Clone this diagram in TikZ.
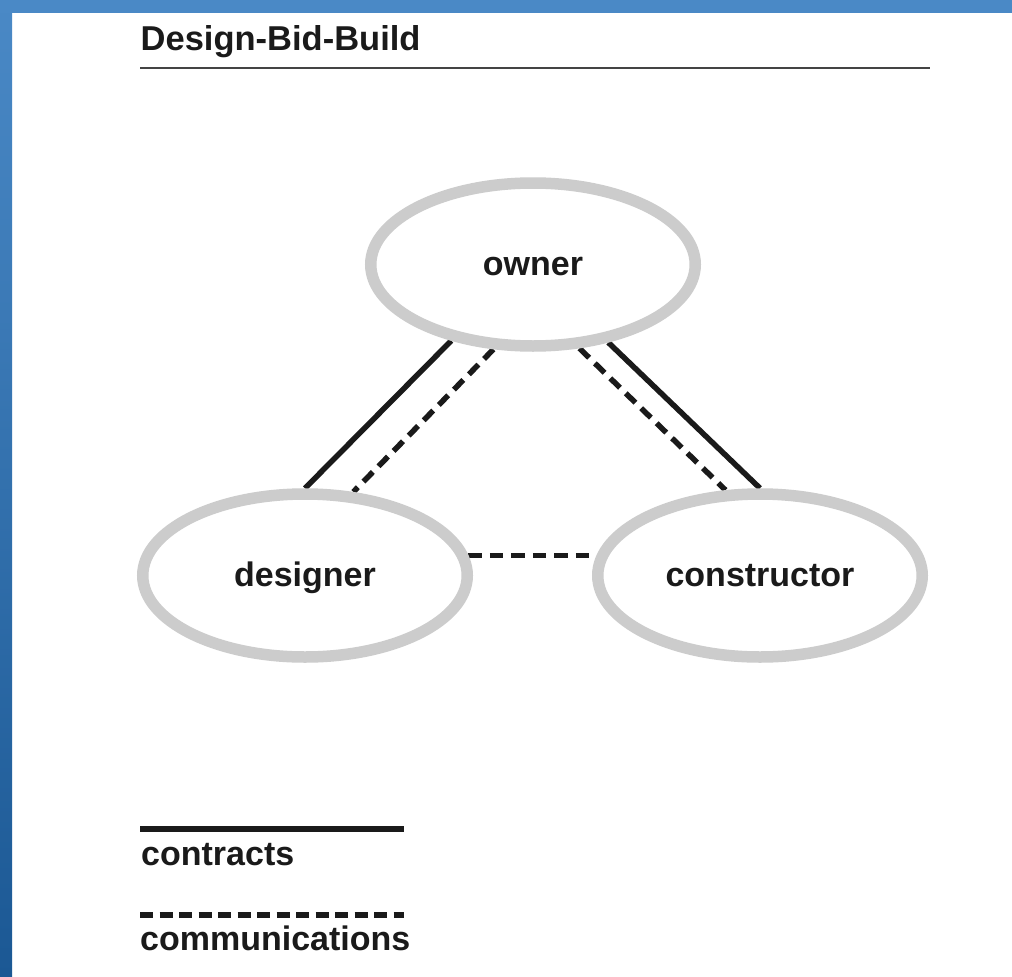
\documentclass[tikz,border=0pt]{standalone}
\usepackage{fontspec}
\setmainfont{Liberation Sans}
\usetikzlibrary{shapes.geometric,backgrounds}
\definecolor{bandblue}{HTML}{4A89C6}
\definecolor{banddark}{HTML}{1B5894}
\definecolor{ringgray}{HTML}{CCCCCC}
\definecolor{inkblack}{HTML}{1A1A1A}
\definecolor{rulegray}{HTML}{444444}
\tikzset{
  party/.style={ellipse, draw=ringgray, line width=11.5pt, fill=white,
    minimum width=324.5pt, minimum height=163pt, inner sep=0pt, outer sep=5.75pt,
    font=\bfseries\fontsize{34}{40}\selectfont, text=inkblack,
    text height=22pt, text depth=0pt},
  contract/.style={draw=inkblack, line width=5.5pt},
  comm/.style={draw=inkblack, line width=5.5pt, dash pattern=on 13.5pt off 8pt},
  commkey/.style={draw=inkblack, line width=6pt, dash pattern=on 13pt off 6.5pt},
  keytext/.style={anchor=base west, inner sep=0pt, text=inkblack,
    font=\bfseries\fontsize{34}{40}\selectfont},
}
\begin{document}
\begin{tikzpicture}[x=1pt, y=-1pt]
  \useasboundingbox (0,0) rectangle (1012,977);
  % nodes
  \node[party] (owner) at (533,264.5) {owner};
  \node[party] (designer) at (305,575.5) {designer};
  \node[party] (constructor) at (760,575.5) {constructor};
  % connectors under the rings
  \begin{pgfonlayer}{background}
    \fill[white] (0,0) rectangle (1012,977);
    \draw[contract] (owner.223.7) -- (designer.90);
    \draw[comm] (owner.245.7) -- (designer.60.3);
    \draw[comm] (owner.299.1) -- (constructor.112.6);
    \draw[contract] (owner.314.8) -- (constructor.90);
    \draw[comm] (designer.7) -- (constructor.173);
  \end{pgfonlayer}
  % title
  \node[keytext, font=\bfseries\fontsize{34.5}{40}\selectfont] (title) at (140.5,50.7) {Design-Bid-Build};
  \coordinate (ruleA) at (140,68);
  \coordinate (ruleB) at (930,68);
  \draw[rulegray, line width=2pt] (ruleA) -- (ruleB);
  % legend
  \coordinate (keyAa) at (140,829);
  \coordinate (keyAb) at (404,829);
  \draw[contract, line width=6pt] (keyAa) -- (keyAb);
  \node[keytext] (contracts) at (141,865) {contracts};
  \coordinate (keyBa) at (140,915);
  \coordinate (keyBb) at (404,915);
  \draw[commkey] (keyBa) -- (keyBb);
  \node[keytext] (communications) at (140,950) {communications};
  % frame bands
  \shade[top color=bandblue, bottom color=banddark] (0,0) rectangle (12,977);
  \fill[bandblue] (0,0) rectangle (1012,13);
\end{tikzpicture}
\end{document}
